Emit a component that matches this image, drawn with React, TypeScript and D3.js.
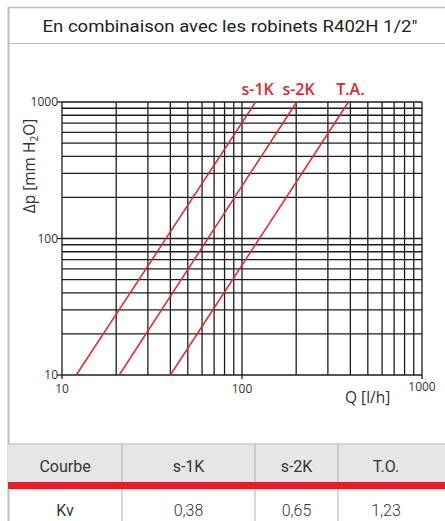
import React from 'react';
import * as d3 from 'd3';

// chart data
const curveNames = ['s-1K', 's-2K', 'T.A.'];
const dpEnds = [10, 1000]; // mm H2O at both ends of every curve
const qEnds = [
  [12, 119],
  [20.8, 201],
  [40, 390],
];
const yTickLabels = [10, 100, 1000];
const xTickLabels = [10, 100, 1000];

const tableHeader = ['Courbe', 's-1K', 's-2K', 'T.O.'];
const tableRow = ['Kv', '0,38', '0,65', '1,23'];

const W = 445;
const H = 521;
const plot = { left: 62, right: 422, top: 102, bottom: 375 };
const colEdges = [8, 122, 255, 338, 434, 445];
const red = '#e3262f';

const App: React.FC = () => {
  const x = d3.scaleLog().domain([10, 1000]).range([plot.left, plot.right]);
  const y = d3.scaleLog().domain([10, 1000]).range([plot.bottom, plot.top]);

  const line = d3
    .line<[number, number]>()
    .x(d => x(d[0]))
    .y(d => y(d[1]));

  const xGrid = x.ticks();
  const yGrid = y.ticks();

  return (
    <svg
      width={W}
      height={H}
      style={{ position: 'absolute', left: 0, top: 0, background: '#fff' }}
    >
      {/* frame + title */}
      <line x1={8} x2={W} y1={7.5} y2={7.5} stroke="#bdbdbd" strokeWidth={1.5} />
      <line x1={8.5} x2={8.5} y1={7} y2={H} stroke="#bdbdbd" strokeWidth={2} />
      <line x1={8} x2={W} y1={43.5} y2={43.5} stroke="#bdbdbd" strokeWidth={1.2} />
      <text
        x={42.5}
        y={32}
        fontFamily="Roboto"
        fontSize={16.5}
        fill="#222"
        textLength={375}
        lengthAdjust="spacingAndGlyphs"
      >
        En combinaison avec les robinets R402H 1/2"
      </text>

      {/* grid */}
      <g stroke="#1c1c1c" strokeWidth={1.3}>
        {xGrid.map(v => (
          <line key={'x' + v} x1={x(v)} x2={x(v)} y1={plot.top} y2={plot.bottom} />
        ))}
        {yGrid.map(v => (
          <line key={'y' + v} x1={plot.left} x2={plot.right} y1={y(v)} y2={y(v)} />
        ))}
        {yTickLabels.map(v => (
          <line key={'yt' + v} x1={plot.left - 5} x2={plot.left} y1={y(v)} y2={y(v)} />
        ))}
        {xTickLabels.map(v => (
          <line key={'xt' + v} x1={x(v)} x2={x(v)} y1={plot.bottom} y2={plot.bottom + 4} />
        ))}
      </g>

      {/* tick labels */}
      <g fontFamily="Open Sans" fontSize={12} fill="#333">
        {yTickLabels.map(v => (
          <text key={'yl' + v} x={plot.left - 4} y={y(v) + 4} textAnchor="end">
            {v}
          </text>
        ))}
        {xTickLabels.map((v, i) => (
          <text key={'xl' + v} x={x(v)} y={plot.bottom + (i === 2 ? 16 : 18)} textAnchor="middle">
            {v}
          </text>
        ))}
      </g>

      {/* axis titles */}
      <text x={345} y={403} fontFamily="Open Sans" fontSize={15.5} fill="#333">
        Q [l/h]
      </text>
      <text
        transform="translate(35,166) rotate(-90)"
        fontFamily="Open Sans"
        fontSize={15.5}
        fill="#333"
        textAnchor="middle"
      >
        Δp [mm H<tspan fontSize={10} dy={3}>2</tspan>
        <tspan dy={-3}>O]</tspan>
      </text>

      {/* curves */}
      {curveNames.map((name, i) => {
        const pts: [number, number][] = qEnds[i].map((q, j) => [q, dpEnds[j]]);
        return (
          <g key={name}>
            <path d={line(pts) || ''} fill="none" stroke={red} strokeWidth={1.5} />
            <text
              x={x(qEnds[i][1]) + 2}
              y={plot.top - 7}
              textAnchor="middle"
              fontFamily="Open Sans"
              fontWeight={600}
              fontSize={16}
              fill={red}
            >
              {name}
            </text>
          </g>
        );
      })}

      {/* table */}
      <rect x={8} y={444} width={W - 8} height={38} fill="#e6e6e6" />
      <line x1={8} x2={W} y1={444} y2={444} stroke="#b5b5b5" strokeWidth={1.2} />
      <rect x={8} y={482} width={W - 8} height={7} fill="#e31e24" />
      {colEdges.slice(1, 4).map(cx => (
        <g key={'c' + cx} stroke="#b0b0b0" strokeWidth={1}>
          <line x1={cx} x2={cx} y1={444} y2={482} />
          <line x1={cx} x2={cx} y1={489} y2={H} />
        </g>
      ))}
      <g fontFamily="Roboto" fontSize={16} fill="#333" textAnchor="middle">
        {tableHeader.map((t, i) => (
          <text key={'h' + i} x={i === 3 ? 386 : (colEdges[i] + colEdges[i + 1]) / 2} y={472}>
            {t}
          </text>
        ))}
        {tableRow.map((t, i) => (
          <text
            key={'r' + i}
            x={i === 3 ? 386 : (colEdges[i] + colEdges[i + 1]) / 2}
            y={516}
            fontWeight={i === 0 ? 400 : 300}
          >
            {t}
          </text>
        ))}
      </g>
    </svg>
  );
};

export default App;
